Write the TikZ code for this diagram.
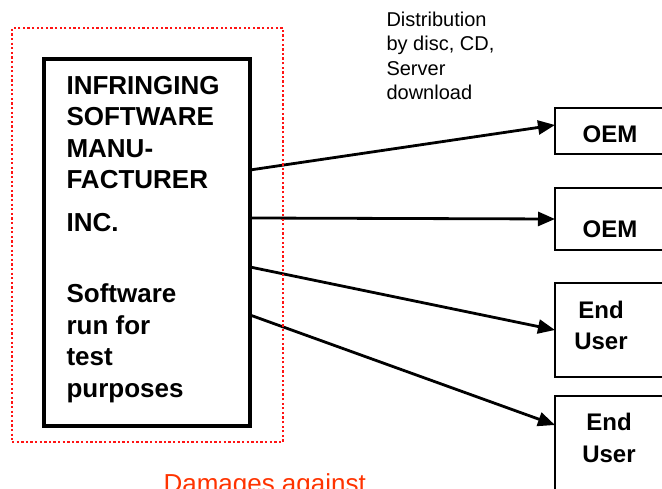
\documentclass[tikz,border=0pt]{standalone}
\usepackage{fontspec}
\setmainfont{Liberation Sans}
\usetikzlibrary{arrows.meta}

\begin{document}
\begin{tikzpicture}[x=1pt, y=-1pt,
        flow/.style={line width=2.8pt, -{Triangle[length=17pt, width=14pt]}},
        destbox/.style={draw, line width=2.5pt, inner sep=0pt, outer sep=0pt, minimum width=112pt},
        boxtext/.style={anchor=base, align=center, font=\fontsize{24}{32}\selectfont\bfseries}]
        % Colori del riquadro e della scritta in basso
        \definecolor{zona}{RGB}{255,20,20}
        \definecolor{danni}{RGB}{255,51,0}
        \clip (0,0) rectangle (662,489);
        \useasboundingbox (0,0) rectangle (662,489);

        % Produttore del software
        \node (maker) at (147,242.5) [draw, line width=4pt, minimum width=206pt, minimum height=367pt, inner sep=0pt, outer sep=0pt]{};
        \node (makertext) at (63,397) [anchor=base west, align=left, font=\fontsize{26}{31.5}\selectfont\bfseries]{INFRINGING\\SOFTWARE\\MANU-\\FACTURER\\[11pt]INC.\\[40pt]Software\\run for\\test\\purposes};

        % Destinatari
        \node (oem1) at (611,131) [destbox, minimum height=46pt]{};
        \node (oem2) at (611,219) [destbox, minimum height=62pt]{};
        \node (user1) at (611,330) [destbox, minimum height=94pt]{};
        \node (user2) at (611,448) [destbox, minimum height=104pt]{};
        \node (oem1text) at (610,143) [boxtext]{OEM};
        \node (oem2text) at (610,238) [boxtext]{OEM};
        \node (user1text) at (601,350) [boxtext]{End\\User};
        \node (user2text) at (609,462) [boxtext]{End\\User};

        \node (distr) at (383,100) [anchor=base west, align=left, font=\fontsize{20}{24.5}\selectfont]{Distribution\\by disc, CD,\\Server\\download};

        % Frecce di distribuzione
        \draw[flow] ([yshift=-111pt]maker.north east) -- ([yshift=6pt]oem1.west);
        \draw[flow] ([yshift=-159pt]maker.north east) -- (oem2.west);
        \draw[flow] ([yshift=-208pt]maker.north east) -- (user1.west);
        \draw[flow] ([yshift=-256pt]maker.north east) -- ([yshift=23pt]user2.west);

        % Riquadro rosso punteggiato
        \node (zone) at (147.5,235) [draw=zona, line width=2.3pt, dash pattern=on 2.3pt off 2.3pt, minimum width=271pt, minimum height=414pt, inner sep=0pt]{};
        \node (damages) at (160,492) [anchor=base west, color=danni, font=\fontsize{26}{30}\selectfont]{Damages against};
    \end{tikzpicture}
\end{document}
